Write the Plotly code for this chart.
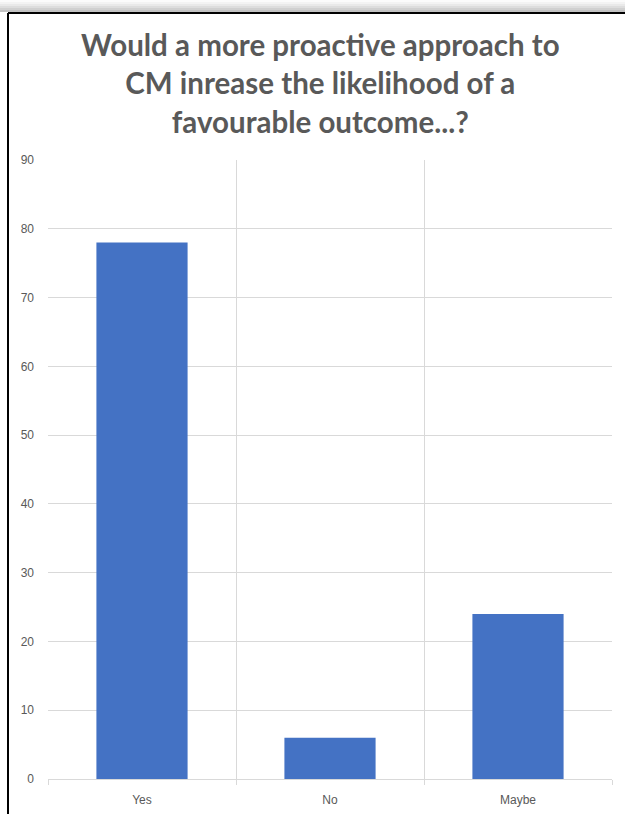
import plotly.graph_objects as go

# Survey responses
categories = ["Yes", "No", "Maybe"]
responses = [78, 6, 24]
y_ticks = [0, 10, 20, 30, 40, 50, 60, 70, 80, 90]

W, H = 625, 814
TEXT = "#595959"
GRID = "#d9d9d9"

fig = go.Figure(
    go.Bar(
        x=categories,
        y=responses,
        marker=dict(color="#4472C4", line=dict(width=0)),
        width=0.485,
    )
)

# plot area in pixels
left, right, top, bottom = 48, 612, 160, 779

fig.update_layout(
    width=W,
    height=H,
    margin=dict(l=0, r=0, t=0, b=0, pad=0),
    paper_bgcolor="white",
    plot_bgcolor="white",
    showlegend=False,
    font=dict(family="Liberation Sans, Arial, sans-serif", color=TEXT, size=12),
    xaxis=dict(
        domain=[left / W, right / W],
        automargin=False,
        tickson="boundaries",
        showgrid=True,
        gridcolor=GRID,
        gridwidth=1,
        ticks="outside",
        ticklen=5,
        tickcolor=GRID,
        showline=True,
        linecolor=GRID,
        linewidth=1,
        tickfont=dict(size=12, color=TEXT),
        ticklabelstandoff=10,
        fixedrange=True,
    ),
    yaxis=dict(
        domain=[1 - bottom / H, 1 - top / H],
        automargin=False,
        range=[0, 90],
        tickvals=y_ticks,
        showgrid=True,
        gridcolor=GRID,
        gridwidth=1,
        zeroline=False,
        showline=False,
        ticks="",
        tickfont=dict(size=12, color=TEXT),
        ticklabelstandoff=13,
        fixedrange=True,
    ),
)

# chart title
fig.add_annotation(
    text="<b>Would a more proactive approach to<br>CM inrease the likelihood of a<br>favourable outcome...?</b>",
    xref="paper", yref="paper",
    x=320 / W, y=1 - 83 / H,
    xanchor="center", yanchor="middle",
    showarrow=False,
    align="center",
    font=dict(family="Lato, Open Sans, sans-serif", size=29.5, color=TEXT),
)

# drop shadow above the frame
shades = ["#fbfbfb", "#f3f3f3", "#e9e9e9", "#dddddd", "#d0d0d0", "#c2c2c2"]
for i, c in enumerate(shades):
    y0 = 2 * i
    fig.add_shape(
        type="rect", xref="paper", yref="paper",
        x0=0, x1=1, y0=1 - (y0 + 2) / H, y1=1 - y0 / H,
        fillcolor=c, line=dict(width=0), layer="below",
    )

# frame border (top and left edges)
fig.add_shape(
    type="line", xref="paper", yref="paper",
    x0=8 / W, x1=1, y0=1 - 13 / H, y1=1 - 13 / H,
    line=dict(color="black", width=2),
)
fig.add_shape(
    type="line", xref="paper", yref="paper",
    x0=8 / W, x1=8 / W, y0=0, y1=1 - 13 / H,
    line=dict(color="black", width=2),
)

fig.write_html("out.html")
